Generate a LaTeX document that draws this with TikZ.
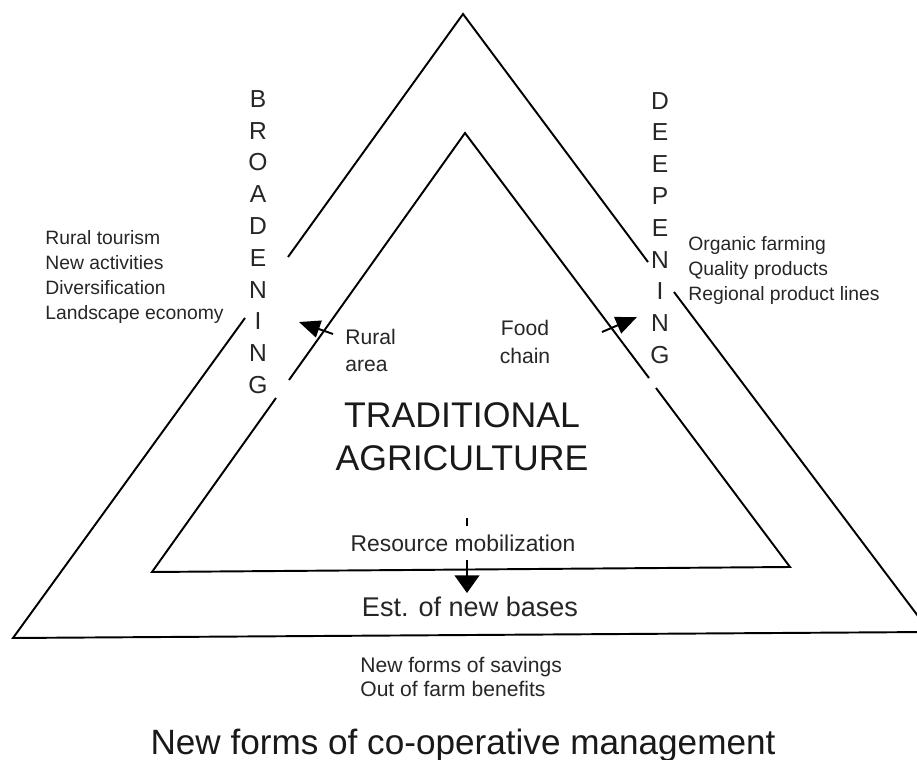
\documentclass[tikz,border=0pt]{standalone}
\usepackage{fontspec}
\setmainfont{Liberation Sans}
\usetikzlibrary{arrows.meta}

\begin{document}
\begin{tikzpicture}[x=0.02cm, y=-0.02cm]

% Frame of the picture (pixel grid, y going down)
\useasboundingbox (0,0) rectangle (917,760);
\clip (0,0) rectangle (917,760);

% Define styles for the sides and the arrows
\tikzstyle{side} = [draw=black, line width=1.1pt, line join=miter]
\tikzstyle{push} = [side, -{Triangle[width=10pt, length=12pt]}]
\tikzstyle{pushdown} = [side, -{Triangle[width=14pt, length=10pt]}]

% Define styles for the texts
\tikzstyle{letters} = [inner sep=0pt, text=black!85, align=center, font=\fontsize{14}{18.1}\selectfont]
\tikzstyle{list} = [inner sep=0pt, text=black!85, align=left, font=\fontsize{11}{14.2}\selectfont]
\tikzstyle{label} = [inner sep=0pt, text=black!85, align=left, font=\fontsize{12}{15.5}\selectfont]
\tikzstyle{title} = [inner sep=0pt, text=black!90, align=center, font=\fontsize{20.3}{24.4}\selectfont]

% Outer triangle, broken where the words run through it
\coordinate (outerTop) at (463,14);
\coordinate (outerLeft) at (13,638);
\coordinate (outerRight) at (930,632);
\coordinate (outerL1) at (288,257);
\coordinate (outerL2) at (245,318);
\coordinate (outerR1) at (648,262);
\coordinate (outerR2) at (674,292);

\draw[side] (outerL1) -- (outerTop) -- (outerR1);
\draw[side] (outerR2) -- (outerRight) -- (outerLeft) -- (outerL2);

% Inner triangle
\coordinate (innerTop) at (465,133);
\coordinate (innerLeft) at (152,572);
\coordinate (innerRight) at (790,567);
\coordinate (innerL1) at (289,380);
\coordinate (innerL2) at (276,398);
\coordinate (innerR1) at (649,378);
\coordinate (innerR2) at (656,388);

\draw[side] (innerL1) -- (innerTop) -- (innerR1);
\draw[side] (innerR2) -- (innerRight) -- (innerLeft) -- (innerL2);

% Arrows going out of the centre
\coordinate (ruralTail) at (333,334);
\coordinate (ruralTip) at (299,322);
\coordinate (foodTail) at (602,332);
\coordinate (foodTip) at (637,317);
\coordinate (resourceTop) at (467,518);
\coordinate (resourceTip) at (467,593);

\draw[push] (ruralTail) -- (ruralTip);
\draw[push] (foodTail) -- (foodTip);
\draw[pushdown] (resourceTop) -- (resourceTip);

% Words along the sides
\node[letters] (broadening) at (258,242) {B\\R\\O\\A\\D\\E\\N\\I\\N\\G};
\node[letters] (deepening) at (660,228) {D\\E\\E\\P\\E\\N\\I\\N\\G};

% Lists beside the sides
\node[list, anchor=north west] (broadList) at (45,230) {Rural tourism\\New activities\\Diversification\\Landscape economy};
\node[list, anchor=north west] (deepList) at (688,236) {Organic farming\\Quality products\\Regional product lines};

% Texts inside the triangle
\node[label, anchor=north west] (rural) at (345,329) {Rural\\area};
\node[label, align=center] (food) at (525,342) {Food\\chain};
\node[title] (traditional) at (462,437) {TRADITIONAL\\AGRICULTURE};
\node[label, font=\fontsize{13}{15.5}\selectfont, fill=white, inner xsep=2pt, inner ysep=5pt] (resource) at (463,543) {Resource mobilization};

% Texts below the triangle
\node[label, font=\fontsize{15.4}{18}\selectfont] (bases) at (470,607) {Est. of new bases};
\node[label, font=\fontsize{12}{13.6}\selectfont, anchor=north west] (savings) at (360,657) {New forms of savings\\Out of farm benefits};
\node[title, font=\fontsize{20}{24}\selectfont] (cooperative) at (463,745) {New forms of co-operative management};

\end{tikzpicture}
\end{document}
